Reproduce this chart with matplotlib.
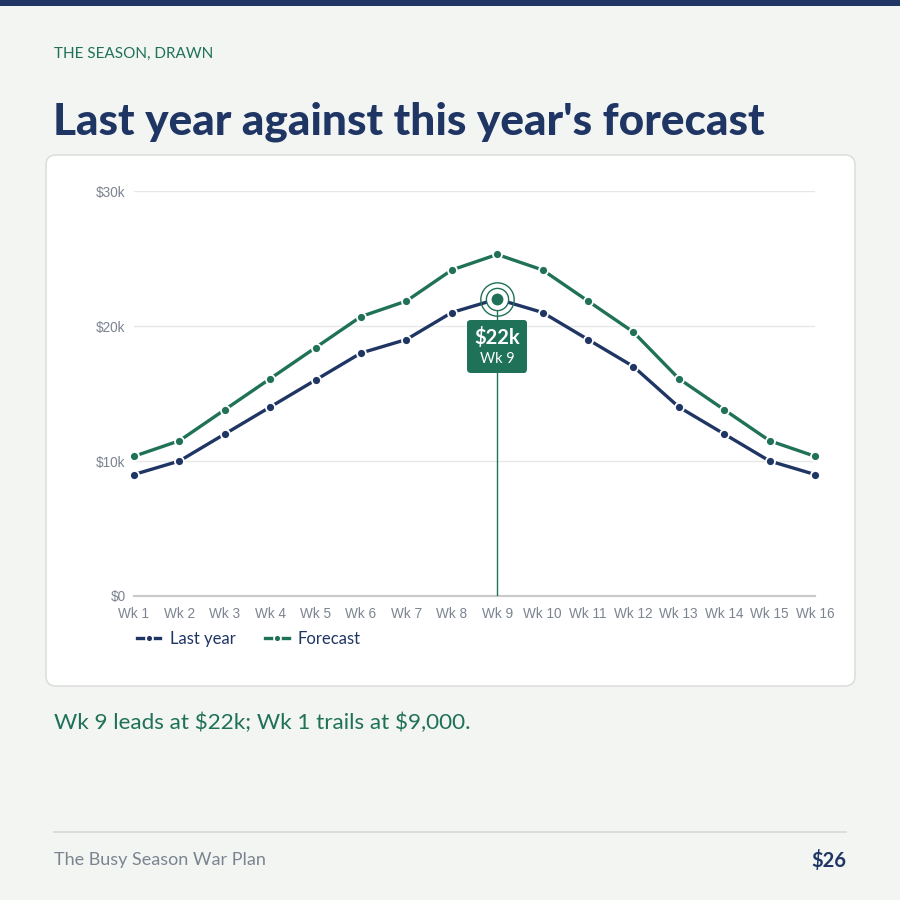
import matplotlib
matplotlib.use("Agg")
import matplotlib.pyplot as plt
from matplotlib.patches import FancyBboxPatch, Rectangle
from matplotlib.lines import Line2D
from matplotlib.ticker import FuncFormatter
from matplotlib.offsetbox import AnnotationBbox, TextArea, VPacker

plt.rcParams["text.parse_math"] = False

# ---- data ----
weeks = ["Wk 1", "Wk 2", "Wk 3", "Wk 4", "Wk 5", "Wk 6", "Wk 7", "Wk 8",
         "Wk 9", "Wk 10", "Wk 11", "Wk 12", "Wk 13", "Wk 14", "Wk 15", "Wk 16"]
last_year = [9000, 10000, 12000, 14000, 16000, 18000, 19000, 21000,
             22000, 21000, 19000, 17000, 14000, 12000, 10000, 9000]
forecast = [10350, 11500, 13800, 16100, 18400, 20700, 21850, 24150,
            25300, 24150, 21850, 19550, 16100, 13800, 11500, 10350]
y_ticks = [0, 10000, 20000, 30000]

NAVY = "#1f3564"
GREEN = "#1f7158"
GREY = "#7c8490"
BG = "#f3f5f3"
HEAD = ["Lato", "DejaVu Sans"]
BODY = ["Lato", "DejaVu Sans"]
TICK = ["Liberation Sans", "DejaVu Sans"]

fig = plt.figure(figsize=(9, 9), dpi=100)
fig.patch.set_facecolor(BG)

def px(x, y):
    return x / 900.0, 1 - y / 900.0

# top bar
fig.patches.append(Rectangle((0, 1 - 6 / 900), 1, 6 / 900, transform=fig.transFigure,
                             facecolor=NAVY, edgecolor="none", zorder=-5))
# card
cx0, cy0 = px(46, 686)
fig.patches.append(FancyBboxPatch((cx0, cy0), (855 - 46) / 900, (686 - 155) / 900,
                                  boxstyle="round,pad=0,rounding_size=0.011",
                                  transform=fig.transFigure, facecolor="white",
                                  edgecolor="#d8dbd8", linewidth=1.0, zorder=-5))

# header text
fig.text(*px(54, 54), "THE SEASON, DRAWN", color=GREEN, fontsize=11,
         family=BODY, va="center", ha="left")
fig.text(*px(53, 122), "Last year against this year's forecast", color=NAVY,
         fontsize=31.8, fontweight="black", family=HEAD, va="center", ha="left")

# axes
l, b = px(134, 596)
ax = fig.add_axes([l, b, (815 - 134) / 900, (596 - 191) / 900])
ax.set_facecolor("none")
ax.set_zorder(2)
x = list(range(len(weeks)))
ax.set_xlim(0, len(weeks) - 1)
ax.set_ylim(y_ticks[0], y_ticks[-1])
for t in y_ticks[1:]:
    ax.axhline(t, color="#e6e8e6", linewidth=1.0, zorder=1)
ax.axhline(0, color="#c9cbc9", linewidth=1.6, zorder=1, clip_on=False)
for s in ax.spines.values():
    s.set_visible(False)
ax.set_yticks(y_ticks)
ax.yaxis.set_major_formatter(FuncFormatter(lambda v, p: "$0" if v == 0 else f"${int(v/1000)}k"))
ax.set_xticks(x)
ax.set_xticklabels(weeks)
ax.tick_params(length=0, labelsize=9.8, labelcolor=GREY)
ax.tick_params(axis="x", pad=8)
ax.tick_params(axis="y", pad=6)
for lab in ax.get_xticklabels() + ax.get_yticklabels():
    lab.set_family(TICK)

style = dict(linewidth=2.4, marker="o", markersize=6.5, markeredgecolor="white",
             markeredgewidth=1.3)
ax.plot(x, last_year, color=NAVY, label="Last year", clip_on=False, zorder=3, **style)
ax.plot(x, forecast, color=GREEN, label="Forecast", clip_on=False, zorder=3, **style)

# highlight peak of last year
pk = max(range(len(last_year)), key=lambda i: last_year[i])
pv = last_year[pk]
ax.plot([pk, pk], [0, pv], color=GREEN, linewidth=1.0, zorder=2)
ax.plot([pk], [pv], marker="o", markersize=24, markerfacecolor="none",
        markeredgecolor=GREEN, markeredgewidth=1.0, zorder=4, clip_on=False)
ax.plot([pk], [pv], marker="o", markersize=16, markerfacecolor="white",
        markeredgecolor=GREEN, markeredgewidth=1.0, zorder=4, clip_on=False)
ax.plot([pk], [pv], marker="o", markersize=7.5, markerfacecolor=GREEN,
        markeredgecolor=GREEN, zorder=5, clip_on=False)

t1 = TextArea(f"${pv // 1000}k", textprops=dict(color="white", fontsize=14.5,
              fontweight="bold", family=HEAD))
t2 = TextArea(weeks[pk], textprops=dict(color="white", fontsize=10.5, family=BODY))
pack = VPacker(children=[t1, t2], align="center", pad=0, sep=3)
ab = AnnotationBbox(pack, (pk, pv), xybox=(0, -34), xycoords="data",
                    boxcoords="offset points", frameon=True, zorder=7,
                    bboxprops=dict(boxstyle="round,pad=0.5,rounding_size=0.25",
                                   facecolor=GREEN, edgecolor="none"))
ab.set_clip_on(False)
ax.add_artist(ab)

# legend
leg_handles = [Line2D([0], [0], color=NAVY, **style),
               Line2D([0], [0], color=GREEN, **style)]
leg = fig.legend(leg_handles, ["Last year", "Forecast"], loc="center left",
                 bbox_to_anchor=px(122, 639), ncol=2, frameon=False,
                 handlelength=1.4, handletextpad=0.55, columnspacing=1.8,
                 prop=dict(family=BODY, size=12))
for t in leg.get_texts():
    t.set_color(NAVY)
for h in leg.legend_handles:
    h.set_markersize(5)
    h.set_linewidth(2.4)

# takeaway
fig.text(*px(54, 723), "Wk 9 leads at $22k; Wk 1 trails at $9,000.", color=GREEN,
         fontsize=16.2, family=BODY, va="center", ha="left")

# footer
fig.add_artist(Line2D([54 / 900, 846 / 900], [1 - 832 / 900] * 2, color="#d6d9d6",
                      linewidth=1.2, transform=fig.transFigure))
fig.text(*px(54, 860), "The Busy Season War Plan", color=GREY, fontsize=13,
         family=BODY, va="center", ha="left")
fig.text(*px(846, 860), "$26", color=NAVY, fontsize=14.5, fontweight="bold",
         family=HEAD, va="center", ha="right")

fig.savefig("out.png", dpi=100, facecolor=BG)
